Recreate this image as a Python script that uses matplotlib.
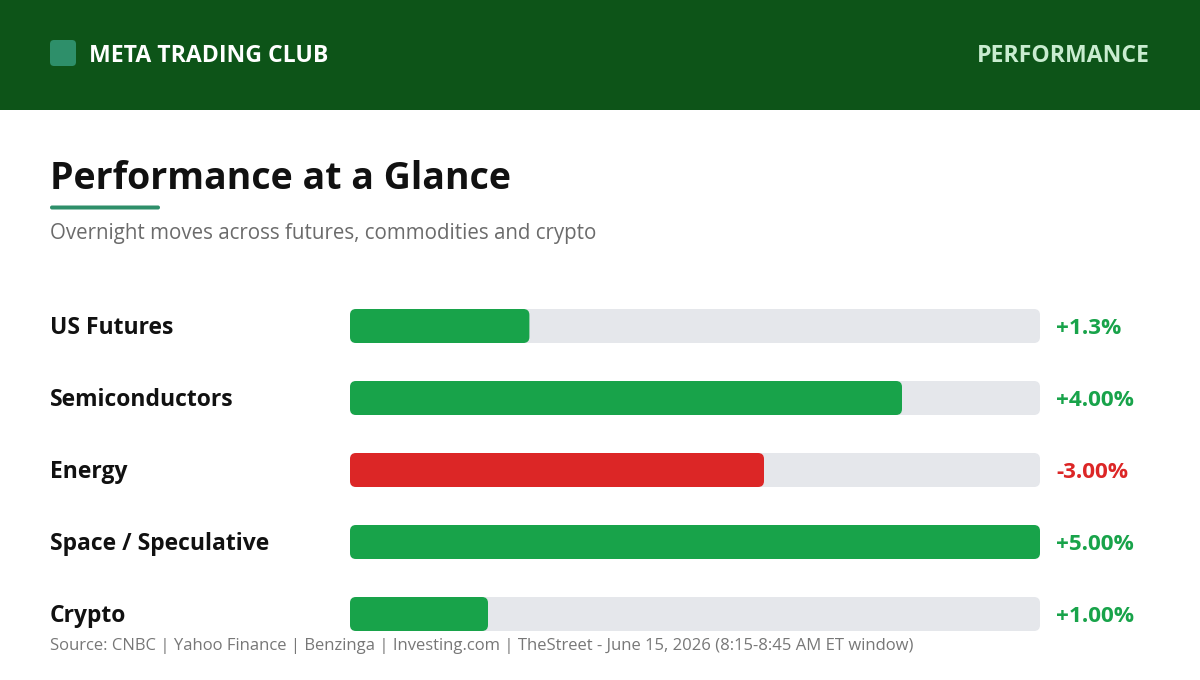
import matplotlib
matplotlib.use("Agg")
import matplotlib.pyplot as plt
from matplotlib.patches import FancyBboxPatch, Rectangle

plt.rcParams['font.family'] = ['Open Sans', 'DejaVu Sans']

# data
categories = ["US Futures", "Semiconductors", "Energy", "Space / Speculative", "Crypto"]
values = [1.3, 4.00, -3.00, 5.00, 1.00]
value_labels = ["+1.3%", "+4.00%", "-3.00%", "+5.00%", "+1.00%"]
scale_max = 5.0

title = "Performance at a Glance"
subtitle = "Overnight moves across futures, commodities and crypto"
brand = "META TRADING CLUB"
section = "PERFORMANCE"
source = "Source: CNBC | Yahoo Finance | Benzinga | Investing.com | TheStreet - June 15, 2026 (8:15-8:45 AM ET window)"

GREEN = "#18a34a"
RED = "#dc2626"
TRACK = "#e5e7eb"
HEADER = "#0d5418"
ACCENT = "#2e8f6a"

W, H = 1200, 680
fig = plt.figure(figsize=(W / 100, H / 100), dpi=100)
fig.patch.set_facecolor("white")

# decoration layer in pixel coordinates
bg = fig.add_axes([0, 0, 1, 1])
bg.set_xlim(0, W)
bg.set_ylim(H, 0)
bg.axis("off")

bg.add_patch(Rectangle((0, 0), W, 110, color=HEADER, lw=0))
bg.add_patch(FancyBboxPatch((50, 40), 26, 26, boxstyle="round,pad=0,rounding_size=4",
                            color=ACCENT, lw=0))
bg.text(89, 55.5, brand, color="white", fontsize=16.6, fontweight="bold",
        va="center", ha="left")
bg.text(1150, 55.5, section, color="#c9ecd0", fontsize=16.6, fontweight="bold",
        va="center", ha="right")

bg.text(50, 179, title, color="#111111", fontsize=27, fontweight="bold",
        va="center", ha="left")
bg.add_patch(FancyBboxPatch((50, 205.5), 110, 4, boxstyle="round,pad=0,rounding_size=2",
                            color=ACCENT, lw=0))
bg.text(50, 233, subtitle, color="#6b6b6b", fontsize=14.8, va="center", ha="left")

bg.text(50, 645.5, source, color="#777777", fontsize=12, va="center", ha="left")

# bar layer: x in value units, y in row index
left_px, right_px = 350, 1040
top_px, bottom_px = 290, 650
ax = fig.add_axes([left_px / W, (H - bottom_px) / H,
                   (right_px - left_px) / W, (bottom_px - top_px) / H])
ax.set_xlim(0, scale_max)
ax.set_ylim(len(categories) - 0.5, -0.5)
ax.axis("off")
ax.patch.set_alpha(0)

bar_h = 34 / 72
x_per_px = scale_max / (right_px - left_px)
y_per_px = 1 / 72
aspect = y_per_px / x_per_px
r = 6 * x_per_px
dy = 2 * y_per_px

for i, (cat, v, lab) in enumerate(zip(categories, values, value_labels)):
    color = GREEN if v >= 0 else RED
    ax.add_patch(FancyBboxPatch((0, i - bar_h / 2), scale_max, bar_h,
                                boxstyle=f"round,pad=0,rounding_size={r}",
                                mutation_aspect=aspect, color=TRACK, lw=0))
    ax.add_patch(FancyBboxPatch((0, i - bar_h / 2), abs(v), bar_h,
                                boxstyle=f"round,pad=0,rounding_size={r}",
                                mutation_aspect=aspect, color=color, lw=0))
    ax.text((50 - left_px) / (right_px - left_px), i + dy, cat, transform=ax.get_yaxis_transform(),
            color="#111111", fontsize=16.5, fontweight="bold", va="center", ha="left")
    ax.text((1056 - left_px) / (right_px - left_px), i + dy, lab, transform=ax.get_yaxis_transform(),
            color=color, fontsize=16.2, fontweight="bold", va="center", ha="left")

fig.savefig("out.png", dpi=100, facecolor="white")
